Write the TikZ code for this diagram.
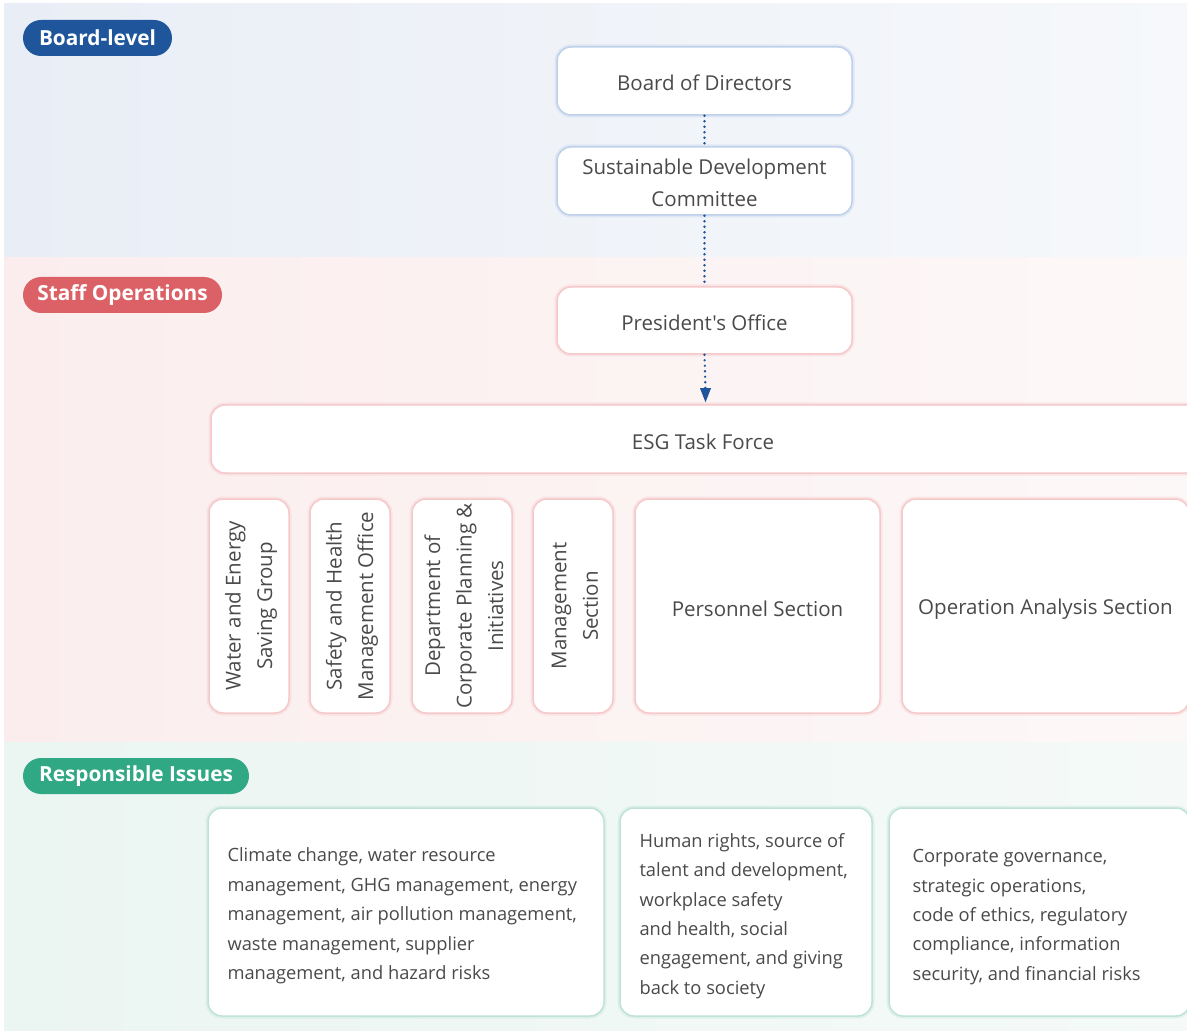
\documentclass[tikz,border=0pt]{standalone}
\usepackage{fontspec}
\setmainfont{Open Sans}[Ligatures=TeXOff]
\usetikzlibrary{arrows.meta}
\definecolor{txt}{HTML}{4A4A4A}
\definecolor{blueA}{HTML}{E9EEF6}
\definecolor{blueB}{HTML}{F6F8FB}
\definecolor{redA}{HTML}{FBEDED}
\definecolor{redB}{HTML}{FDF8F8}
\definecolor{grnA}{HTML}{EBF5F1}
\definecolor{grnB}{HTML}{F5FAF8}
\definecolor{pillblue}{HTML}{1E559B}
\definecolor{pillred}{HTML}{DC6166}
\definecolor{pillgreen}{HTML}{31A884}
\definecolor{glowblue}{HTML}{BFD0EA}
\definecolor{glowred}{HTML}{F5C8CA}
\definecolor{glowgreen}{HTML}{BFE3D6}
\definecolor{conn}{HTML}{1E559B}
\tikzset{
  pill/.style={rounded corners=18pt, text=white, font=\bfseries\fontsize{20.8}{24}\selectfont, inner sep=0pt, minimum height=36pt},
  box/.style={draw=#1, line width=1.5pt, fill=white, rounded corners=14pt, inner sep=0pt,
     preaction={draw=#1, line width=5pt, opacity=0.35}},
  boxlabel/.style={text=txt, font=\fontsize{20.5}{31.5}\selectfont, align=center},
  issue/.style={text=txt, font=\fontsize{18.3}{29.4}\selectfont, align=left, anchor=west},
  link/.style={conn, line width=2.6pt, dash pattern=on 0pt off 5.5pt, line cap=round},
}
\begin{document}
\begin{tikzpicture}[x=1pt,y=-1pt]
\useasboundingbox (0,0) rectangle (1187,1032);
\clip (0,0) rectangle (1187,1032);
\fill[white] (0,0) rectangle (1187,1032);
% bands
\shade[left color=blueA, right color=blueB] (4,4) rectangle (1187,258);
\shade[left color=redA, right color=redB] (4,258) rectangle (1187,742);
\shade[left color=grnA, right color=grnB] (4,742) rectangle (1187,1030);
% pills
\node[pill, fill=pillblue, minimum width=149pt] (p1) at (97.5,38) {Board-level};
\node[pill, fill=pillred, minimum width=199pt] (p2) at (122.5,295) {Staff Operations};
\node[pill, fill=pillgreen, minimum width=226pt] (p3) at (136,776) {Responsible Issues};
% top boxes
\node[box=glowblue, minimum width=295pt, minimum height=68pt] (bod) at (704.5,81) {};
\node[boxlabel] at (704.5,83) {Board of Directors};
\node[box=glowblue, minimum width=295pt, minimum height=68pt] (sdc) at (704.5,181) {};
\node[boxlabel] at (704.5,183) {Sustainable Development\\Committee};
\node[box=glowred, minimum width=295pt, minimum height=67pt] (pres) at (704.5,320.5) {};
\node[boxlabel] at (704.5,322.5) {President's Office};
\node[box=glowred, minimum width=989pt, minimum height=68pt] (esg) at (705.5,439) {};
\node[boxlabel] at (703,442) {ESG Task Force};
% connectors
\draw[link] (bod.south) -- (sdc.north);
\draw[link] (sdc.south) -- (pres.north);
\draw[link] (pres.south) -- ([yshift=14pt]esg.north);
\fill[conn] ([yshift=2pt]esg.north) -- ++(-5.5,-14) -- ++(11,0) -- cycle;
% staff boxes
\node[box=glowred, minimum width=80pt, minimum height=214pt] (water) at (249,606) {};
\node[boxlabel, rotate=90] at (251,606) {Water and Energy\\Saving Group};
\node[box=glowred, minimum width=80pt, minimum height=214pt] (safety) at (350,606) {};
\node[boxlabel, rotate=90] at (352,606) {Safety and Health\\Management Office};
\node[box=glowred, minimum width=100pt, minimum height=214pt] (dept) at (462,606) {};
\node[boxlabel, rotate=90] at (464,606) {Department of\\Corporate Planning \&\\Initiatives};
\node[box=glowred, minimum width=80pt, minimum height=214pt] (mgmt) at (573,606) {};
\node[boxlabel, rotate=90] at (575,606) {Management\\Section};
\node[box=glowred, minimum width=245pt, minimum height=214pt] (pers) at (757.5,606) {};
\node[boxlabel] at (757.5,609) {Personnel Section};
\node[box=glowred, minimum width=287pt, minimum height=214pt] (opan) at (1045.5,606) {};
\node[boxlabel] at (1045.5,609) {Operation Analysis Section};
% issue boxes
\node[box=glowgreen, minimum width=396pt, minimum height=208pt] (clim) at (406,912) {};
\node[issue] at (224,916) {Climate change, water resource\\management, GHG management, energy\\management, air pollution management,\\waste management, supplier\\management, and hazard risks};
\node[box=glowgreen, minimum width=252pt, minimum height=208pt] (human) at (746,912) {};
\node[issue] at (636,916) {Human rights, source of\\talent and development,\\workplace safety\\and health, social\\engagement, and giving\\back to society};
\node[box=glowgreen, minimum width=301pt, minimum height=208pt] (corp) at (1039.5,912) {};
\node[issue] at (909,917) {Corporate governance,\\strategic operations,\\code of ethics, regulatory\\compliance, information\\security, and financial risks};
\end{tikzpicture}
\end{document}
